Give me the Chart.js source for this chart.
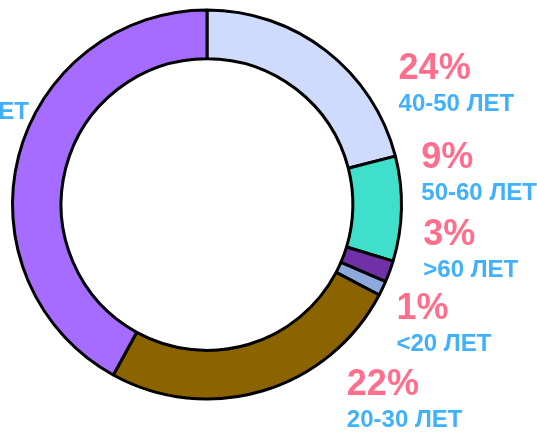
<!DOCTYPE html>
<html>
<head>
<meta charset="utf-8">
<script src="https://cdn.jsdelivr.net/npm/chart.js@4"></script>
<style>
  html, body { margin: 0; padding: 0; background: #fff; }
  #wrap { width: 537px; height: 433px; position: relative; overflow: hidden; }
</style>
</head>
<body>
<div id="wrap"><canvas id="ageDonut" width="537" height="433"></canvas></div>
<script>
// age groups, clockwise from the top
const ageGroups = ['40-50 ЛЕТ', '50-60 ЛЕТ', '>60 ЛЕТ', '<20 ЛЕТ', '20-30 ЛЕТ', '30-40 ЛЕТ'];
// slice sizes as drawn
const sliceValues = [21.0, 8.7, 1.8, 1.2, 25.3, 42.0];
// percent captions printed next to the slices
const shownPercents = ['24%', '9%', '3%', '1%', '22%', '41%'];
const sliceColors = ['#cfdbfd', '#3fdfcb', '#7031a6', '#8eaadc', '#8b6400', '#a56cff'];

// caption positions, relative to ring centre, in outer radii
const captionSpots = [
    [0.985, -0.645],
    [1.102, -0.186],
    [1.112, 0.207],
    [0.974, 0.589],
    [0.719, 0.982],
    [-1.51, -0.605]
];

const captionPlugin = {
    id: 'captions',
    afterDraw(chart) {
        const ctx = chart.ctx;
        const arcs = chart.getDatasetMeta(0).data;
        ctx.save();
        ctx.textAlign = 'left';
        ctx.textBaseline = 'alphabetic';
        arcs.forEach((arc, i) => {
            const r = arc.outerRadius;
            const x = arc.x + captionSpots[i][0] * r;
            const y = arc.y + captionSpots[i][1] * r;
            ctx.fillStyle = '#ff6f8d';
            ctx.font = 'bold 36px "Liberation Sans", Arial, sans-serif';
            ctx.fillText(shownPercents[i], x, y);
            ctx.fillStyle = '#3fb1ff';
            ctx.font = 'bold 24px "Liberation Sans", Arial, sans-serif';
            ctx.fillText(ageGroups[i], x, y + 32);
        });
        ctx.restore();
    }
};

new Chart(document.getElementById('ageDonut'), {
    type: 'doughnut',
    data: {
        labels: ageGroups,
        datasets: [{
            data: sliceValues,
            backgroundColor: sliceColors,
            borderColor: '#000',
            borderWidth: 3,
            hoverOffset: 0
        }]
    },
    options: {
        responsive: false,
        animation: false,
        cutout: '75%',
        layout: { padding: { left: 11, top: 8, right: 134, bottom: 32 } },
        plugins: {
            legend: { display: false },
            tooltip: { enabled: false }
        }
    },
    plugins: [captionPlugin]
});
</script>
</body>
</html>
